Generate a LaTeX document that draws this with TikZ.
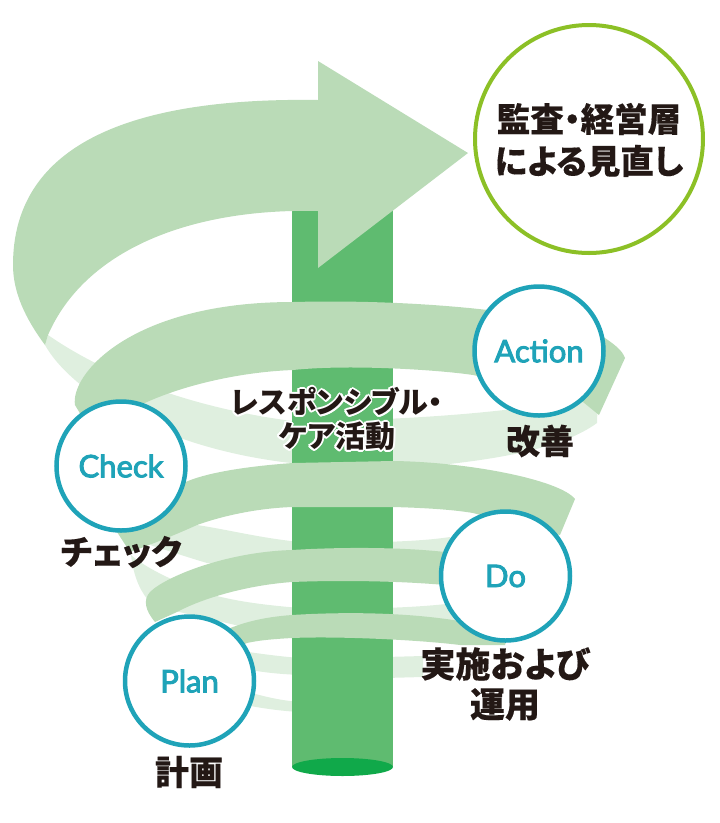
\documentclass[tikz,border=0pt]{standalone}
\usepackage{fontspec}
\usepackage{contour}
\usetikzlibrary{positioning}
\newfontfamily\jpfont{Noto Sans CJK JP}[RawFeature=+palt,BoldFeatures={FakeBold=0.3}]
\newfontfamily\jpcare{Noto Sans CJK JP}[RawFeature=+palt]
\newfontfamily\enfont{Lato}[FakeBold=3]
\contourlength{1.8pt}
\contournumber{16}
\definecolor{bandfront}{HTML}{BADBB7}
\definecolor{bandback}{HTML}{DFEFDF}
\definecolor{pillar}{HTML}{5FBB70}
\definecolor{pillarbase}{HTML}{10A94A}
\definecolor{pdcateal}{HTML}{1FA3B8}
\definecolor{reviewgreen}{HTML}{8CC026}
\definecolor{inkblack}{HTML}{231815}
\tikzset{
  pdcacircle/.style={circle,draw=pdcateal,line width=4.5pt,fill=white,minimum size=129pt,inner sep=0pt,text=pdcateal,font=\enfont\fontsize{31}{31}\selectfont},
  jplabel/.style={text=inkblack,align=center,inner sep=0pt,font=\jpfont\bfseries\fontsize{35}{40}\selectfont}
}
\begin{document}
\begin{tikzpicture}[x=1pt,y=-1pt]
        \useasboundingbox (0,0) rectangle (720,823);
        \fill[bandback] (48,335) .. controls (110,378) and (200,410) .. (300,422) -- (300,464) .. controls (160,450) and (70,390) .. (45,345) -- cycle;
        \fill[bandback] (385,419) .. controls (450,416) and (530,410) .. (598,395) -- (597,423) .. controls (560,450) and (490,462) .. (385,470) -- cycle;
        \fill[bandback] (180,525) -- (197,525) .. controls (230,530) and (260,538) .. (300,542) -- (300,570) -- (207,563) .. controls (190,558) and (175,553) .. (150,545) -- cycle;
        \fill[bandback] (385,542) .. controls (410,541) and (430,540) .. (450,537) -- (450,560) -- (385,560) -- cycle;
        \fill[bandback] (131,555) .. controls (133,572) and (138,588) .. (148,600) -- (175,611) -- (300,640) -- (300,608) .. controls (265,605) and (240,602) .. (213,595) .. controls (195,590) and (150,572) .. (131,555) -- cycle;
        \fill[bandback] (385,608) .. controls (410,607) and (430,606) .. (455,603) -- (455,625) -- (385,625) -- cycle;
        \fill[bandback] (235,650) .. controls (255,653) and (275,656) .. (300,658) -- (300,675) .. controls (280,674) and (265,673) .. (240,668) -- cycle;
        \fill[bandback] (385,657) -- (423,656) -- (423,677) -- (385,678) -- cycle;
        \fill[bandback] (240,690) .. controls (260,695) and (275,700) .. (300,702) -- (300,712) .. controls (280,711) and (260,708) .. (240,704) -- cycle;
        \fill[pillar] (292,200) rectangle (393,767);
        \fill[pillarbase] (342.5,767) ellipse [x radius=50.5,y radius=9];
        \fill[bandfront] (75,405) .. controls (70,375) and (130,302) .. (293,302) .. controls (450,298) and (590,320) .. (605,338) .. controls (615,345) and (622,350) .. (625,358) -- (599,415) -- (583,402) -- (520,385) -- (473,375) .. controls (440,370) and (350,364) .. (293,370) .. controls (240,372) and (185,385) .. (147,402) -- (90,430) -- cycle;
        \fill[bandfront] (575,499) .. controls (560,480) and (470,462) .. (393,461) -- (293,463) .. controls (250,466) and (210,472) .. (188,481) -- (140,500) -- (117,532) -- (130,552) .. controls (150,545) and (175,535) .. (197,525) .. controls (225,515) and (260,508) .. (293,507) -- (393,507) .. controls (430,508) and (455,510) .. (473,513) -- (560,535) -- cycle;
        \fill[bandfront] (155,622) .. controls (145,610) and (143,600) .. (150,592) .. controls (165,577) and (225,552) .. (292,550) .. controls (340,547) and (400,547) .. (445,552) -- (445,585) .. controls (400,581) and (340,580) .. (292,582) .. controls (250,585) and (205,597) .. (177,612) -- cycle;
        \fill[bandfront] (215,635) .. controls (240,622) and (265,617) .. (292,615) .. controls (340,612) and (400,612) .. (453,620) -- (510,630) -- (505,645) -- (460,645) .. controls (420,640) and (340,636) .. (292,638) .. controls (275,639) and (260,640) .. (247,643) -- (230,650) -- cycle;
        \fill[bandfront] (318,61) -- (468,153) -- (318,268) -- (318,211) .. controls (190,208) and (85,250) .. (48,335) -- (45,345) .. controls (25,318) and (13,292) .. (13,265) .. controls (13,150) and (120,97) .. (318,100) -- cycle;
        \node[circle,draw=reviewgreen,line width=4pt,fill=white,minimum size=228pt,inner sep=0pt] (review) at (589,139) {};
        \node[pdcacircle] (action) at (539,351) {Action};
        \node[pdcacircle] (check) at (121,466) {Check};
        \node[pdcacircle] (do) at (505.5,576) {Do};
        \node[pdcacircle] (plan) at (189.5,681) {Plan};
        \node[jplabel,font=\jpfont\bfseries\fontsize{33.5}{42}\selectfont] (reviewtext) at (589,140) {監査・経営層\\による見直し};
        \node[jplabel,font=\jpcare\bfseries\fontsize{30}{34}\selectfont] (care) at (337,420) {\contour{white}{レスポンシブル・}\\\contour{white}{ケア活動}};
        \node[jplabel,font=\jpfont\bfseries\fontsize{34}{40}\selectfont] (actionlabel) at (540,441) {改善};
        \node[jplabel,font=\jpfont\bfseries\fontsize{34}{40}\selectfont] (checklabel) at (121,552) {チェック};
        \node[jplabel] (dolabel) at (505,684) {実施および\\運用};
        \node[jplabel,font=\jpfont\bfseries\fontsize{34}{40}\selectfont] (planlabel) at (189,772) {計画};
\end{tikzpicture}
\end{document}
